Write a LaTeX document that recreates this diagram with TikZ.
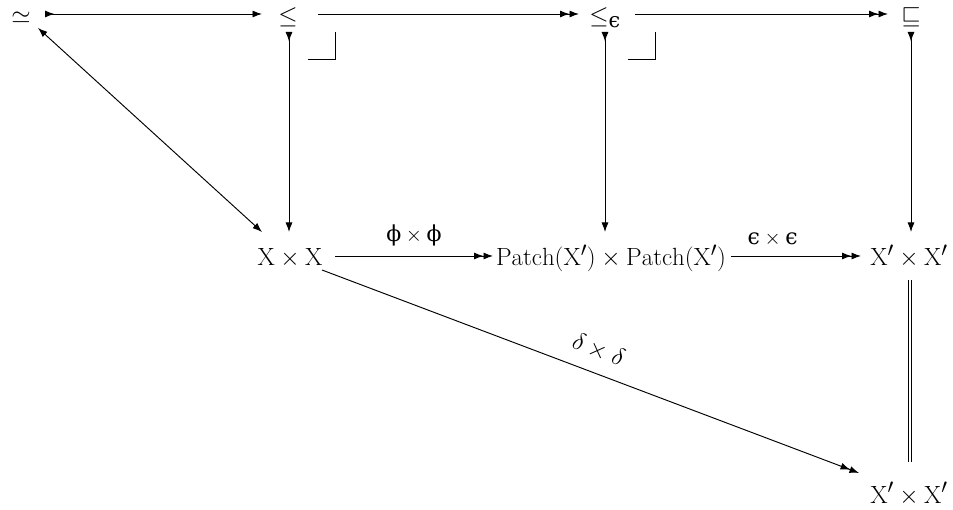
\documentclass[tikz,border=0pt]{standalone}
\usepackage{amsmath}
\usepackage{fontspec}
\newfontfamily\grk{DejaVu Serif}
\usetikzlibrary{arrows.meta}
\begin{document}
\begin{tikzpicture}[x=1pt,y=1pt,
  obj/.style={font=\fontsize{24.88}{30}\selectfont, inner sep=0pt, anchor=base},
  lab/.style={font=\fontsize{22}{26}\selectfont, inner sep=0pt},
  dlab/.style={font=\fontsize{24.88}{30}\selectfont, inner sep=0pt},
  tip/.tip={Latex[length=9.5pt,width=7pt]},
  rtip/.tip={Latex[length=9.5pt,width=7pt,reversed]},
  conn/.style={line width=0.95pt},
  ar/.style={conn, -tip},
  mono/.style={conn, rtip-tip},
  epi/.style={conn, -{tip[sep=0pt]tip}},
  both/.style={conn, tip-tip},
  corner/.style={conn},
  eq/.style={line width=0.9pt, double distance=2.4pt}
]
\fill[white] (0,0) rectangle (953,-510);
\useasboundingbox (0,0) rectangle (953,-510);

% objects (base points)
\node[obj] (sim) at (21,-24) {$\simeq$};
\node[obj] (le)  at (288,-24) {$\leq$};
\node[obj] (lee) at (605,-24) {$\leq_{\text{\grk ϵ}}$};
\node[obj] (sq)  at (911,-24) {$\sqsubseteq$};
\node[obj] (XX)  at (290,-266) {$\mathrm{X}\times\mathrm{X}$};
\node[obj] (PP)  at (611,-266) {$\mathrm{Patch}(\mathrm{X}')\times\mathrm{Patch}(\mathrm{X}')$};
\node[obj] (XpXp) at (909,-266) {$\mathrm{X}'\times\mathrm{X}'$};
\node[obj] (XpXpb) at (909,-503) {$\mathrm{X}'\times\mathrm{X}'$};

% top row
\draw[mono] ([shift={(24,10)}]sim.base) -- ([shift={(-26,10)}]le.base);
\draw[epi] ([shift={(30,10)}]le.base) -- ([shift={(-26,10)}]lee.base);
\draw[epi] ([shift={(30,10)}]lee.base) -- ([shift={(-23,10)}]sq.base);

% verticals
\draw[mono] ([shift={(1,-8)}]le.base) -- ([shift={(-1,34)}]XX.base);
\draw[mono] ([shift={(0,-8)}]lee.base) -- ([shift={(-6,34)}]PP.base);
\draw[mono] ([shift={(0,-8)}]sq.base) -- ([shift={(2,34)}]XpXp.base);

% diagonal
\draw[both] ([shift={(17,-4)}]sim.base) -- ([shift={(-28,34)}]XX.base);

% middle row
\draw[epi] ([shift={(45,10)}]XX.base) -- ([shift={(-118,10)}]PP.base)
  node[lab, midway, above=9pt] (phl) {$\text{\grk ϕ}\times\text{\grk ϕ}$};
\draw[epi] ([shift={(120,10)}]PP.base) -- ([shift={(-48,10)}]XpXp.base)
  node[lab, pos=0.32, above=9pt] (epl) {$\text{\grk ϵ}\times\text{\grk ϵ}$};

% delta
\draw[epi] ([shift={(32,-4)}]XX.base) -- ([shift={(-50,30)}]XpXpb.base)
  node[dlab, midway, above=13pt, sloped] (dl) {$\delta\times\delta$};

% equality
\draw[eq] ([shift={(1,-14)}]XpXp.base) -- ([shift={(1,41)}]XpXpb.base);

% pullback corners
\draw[corner] ([shift={(20,-35)}]le.base) -- ([shift={(47,-35)}]le.base) -- ([shift={(47,-8)}]le.base);
\draw[corner] ([shift={(23,-35)}]lee.base) -- ([shift={(50,-35)}]lee.base) -- ([shift={(50,-8)}]lee.base);
\end{tikzpicture}
\end{document}
